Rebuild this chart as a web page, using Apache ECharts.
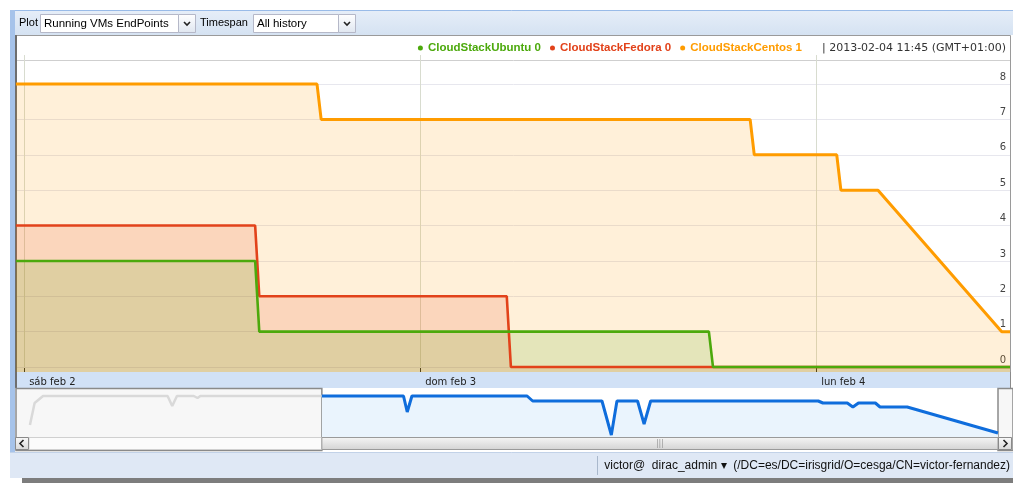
<!DOCTYPE html>
<html>
<head>
<meta charset="utf-8">
<script src="https://cdn.jsdelivr.net/npm/echarts@6/dist/echarts.min.js"></script>
<style>
  html, body { margin: 0; padding: 0; background: #fff; }
  #chart { width: 1013px; height: 483px; }
</style>
</head>
<body>
<div id="chart"></div>
<script>
// legend order (top-right), colours and the value shown after each name
var seriesNames = ['CloudStackUbuntu', 'CloudStackFedora', 'CloudStackCentos'];
var seriesColors = ['#4ca90c', '#e2421a', '#ff9c00'];
var legendValues = [0, 0, 1];
var legendStamp = '| 2013-02-04 11:45 (GMT+01:00)';

// running VMs per endpoint
var ubuntuData = [
  ['2013-02-01 23:30', 3], ['2013-02-02 14:00', 3], ['2013-02-02 14:15', 1],
  ['2013-02-03 17:30', 1], ['2013-02-03 17:45', 0], ['2013-02-04 11:45', 0]
];
var fedoraData = [
  ['2013-02-01 23:30', 4], ['2013-02-02 14:00', 4], ['2013-02-02 14:15', 2],
  ['2013-02-03 05:15', 2], ['2013-02-03 05:30', 0], ['2013-02-04 11:45', 0]
];
var centosData = [
  ['2013-02-01 23:30', 8], ['2013-02-02 17:45', 8], ['2013-02-02 18:00', 7],
  ['2013-02-03 20:00', 7], ['2013-02-03 20:15', 6], ['2013-02-04 01:15', 6],
  ['2013-02-04 01:30', 5], ['2013-02-04 03:45', 5], ['2013-02-04 11:15', 1],
  ['2013-02-04 11:45', 1]
];
var yTicks = [0, 1, 2, 3, 4, 5, 6, 7, 8];
var dayTicks = ['2013-02-02 00:00', '2013-02-03 00:00', '2013-02-04 00:00'];
var dayNames = ['dom', 'lun', 'mar', 'mié', 'jue', 'vie', 'sáb'];
var monthNames = ['ene', 'feb', 'mar', 'abr', 'may', 'jun', 'jul', 'ago', 'sep', 'oct', 'nov', 'dic'];
var viewStart = '2013-02-01 23:34';
var viewEnd = '2013-02-04 11:45';

// overview strip under the plot (arbitrary units)
var overviewStart = '2013-01-31 21:30';
var overviewHistory = [
  ['2013-01-31 21:35', 12], ['2013-01-31 22:00', 34], ['2013-01-31 22:45', 41],
  ['2013-02-01 02:40', 41], ['2013-02-01 02:45', 39], ['2013-02-01 03:10', 41],
  ['2013-02-01 09:50', 41], ['2013-02-01 10:15', 31], ['2013-02-01 10:40', 41],
  ['2013-02-01 12:10', 41], ['2013-02-01 12:30', 39], ['2013-02-01 12:45', 41],
  ['2013-02-01 23:34', 41]
];
var overviewData = [
  ['2013-02-01 23:34', 41], ['2013-02-02 06:50', 41], ['2013-02-02 07:10', 25],
  ['2013-02-02 07:35', 41], ['2013-02-02 17:50', 41], ['2013-02-02 18:20', 36],
  ['2013-02-03 00:30', 36], ['2013-02-03 01:20', 2], ['2013-02-03 01:50', 36],
  ['2013-02-03 03:40', 36], ['2013-02-03 04:15', 13], ['2013-02-03 04:50', 36],
  ['2013-02-03 19:45', 36], ['2013-02-03 20:10', 34], ['2013-02-03 22:20', 34],
  ['2013-02-03 22:50', 30], ['2013-02-03 23:20', 34], ['2013-02-04 00:50', 34],
  ['2013-02-04 01:15', 30], ['2013-02-04 03:40', 30], ['2013-02-04 11:45', 4]
];

function t(s) { return echarts.time.parse(s).getTime(); }
function pts(arr) { return arr.map(function (d) { return [t(d[0]), d[1]]; }); }

var chartFont = 'DejaVu Sans';
var uiFont = 'Liberation Sans';
var plotW = 993, plotH = 312;

var chart = echarts.init(document.getElementById('chart'));

function plotSeries(name, data, color, width) {
  return {
    name: name,
    type: 'line',
    data: pts(data),
    showSymbol: false,
    silent: true,
    xAxisIndex: 0,
    yAxisIndex: 0,
    lineStyle: { color: color, width: width },
    itemStyle: { color: color },
    areaStyle: { color: color, opacity: 0.15, origin: 'start' }
  };
}

var option = {
  animation: false,
  title: {
    text: legendStamp,
    right: 2,
    top: 38,
    textStyle: { fontFamily: chartFont, fontSize: 11, fontWeight: 'normal', color: '#333' }
  },
  legend: {
    right: 206,
    top: 37,
    icon: 'circle',
    itemWidth: 5,
    itemHeight: 5,
    itemGap: 9,
    selectedMode: false,
    data: seriesNames.map(function (n, i) {
      return { name: n, textStyle: { color: seriesColors[i] } };
    }),
    formatter: function (name) {
      return name + ' ' + legendValues[seriesNames.indexOf(name)];
    },
    textStyle: { fontFamily: uiFont, fontSize: 11.5, fontWeight: 'bold' }
  },
  grid: [
    { left: 17, right: 3, top: 60, height: plotH },
    { left: 29, right: 15, top: 392, height: 45 }
  ],
  xAxis: [
    {
      // day grid lines + labels
      type: 'value',
      gridIndex: 0,
      position: 'bottom',
      min: t(viewStart),
      max: t(viewEnd),
      axisLine: { show: false },
      axisTick: {
        show: true, inside: true, length: plotH,
        customValues: dayTicks.map(t),
        lineStyle: { color: '#d8dccf' }
      },
      axisLabel: {
        customValues: dayTicks.map(t),
        align: 'left',
        margin: 5,
        padding: [0, 0, 0, 5],
        fontFamily: chartFont,
        fontSize: 10,
        color: '#222',
        formatter: function (v) {
          var d = new Date(v);
          return dayNames[d.getDay()] + ' ' + monthNames[d.getMonth()] + ' ' + d.getDate();
        }
      },
      splitLine: { show: false }
    },
    {
      type: 'value',
      gridIndex: 1,
      min: t(overviewStart),
      max: t(viewEnd),
      show: false
    },
    {
      // short dark tick marks at the bottom edge
      type: 'value',
      gridIndex: 0,
      position: 'bottom',
      offset: 0,
      min: t(viewStart),
      max: t(viewEnd),
      axisLine: { show: false },
      axisTick: {
        show: true, inside: true, length: 4,
        customValues: dayTicks.map(t),
        lineStyle: { color: '#222' }
      },
      axisLabel: { show: false },
      splitLine: { show: false }
    }
  ],
  yAxis: [
    {
      type: 'value',
      gridIndex: 0,
      position: 'right',
      min: -0.14,
      max: 8.68,
      axisLine: { show: false },
      axisTick: {
        show: true, inside: true, length: plotW,
        customValues: yTicks,
        lineStyle: { color: '#e7e7ee' }
      },
      axisLabel: {
        inside: true,
        margin: 4,
        customValues: yTicks,
        verticalAlign: 'bottom',
        padding: [0, 0, 2, 0],
        fontFamily: chartFont,
        fontSize: 10,
        color: '#444'
      },
      splitLine: { show: false }
    },
    {
      type: 'value',
      gridIndex: 1,
      min: 0,
      max: 45,
      show: false
    }
  ],
  series: [
    plotSeries(seriesNames[2], centosData, seriesColors[2], 3),
    plotSeries(seriesNames[1], fedoraData, seriesColors[1], 2.6),
    plotSeries(seriesNames[0], ubuntuData, seriesColors[0], 2.6),
    {
      name: 'history',
      type: 'line',
      data: pts(overviewHistory),
      showSymbol: false,
      silent: true,
      xAxisIndex: 1,
      yAxisIndex: 1,
      lineStyle: { color: '#d9d9d9', width: 2.5 }
    },
    {
      name: 'overview',
      type: 'line',
      data: pts(overviewData),
      showSymbol: false,
      silent: true,
      xAxisIndex: 1,
      yAxisIndex: 1,
      lineStyle: { color: '#0f6ddc', width: 3 },
      areaStyle: { color: '#eaf4fd', opacity: 1, origin: 'start' }
    }
  ]
};

chart.setOption(option);

function chevron(cx, cy, dir) {
  var p;
  if (dir === 'down') p = [[cx - 3, cy - 1.5], [cx, cy + 1.5], [cx + 3, cy - 1.5]];
  else if (dir === 'left') p = [[cx + 1.5, cy - 3.5], [cx - 2, cy], [cx + 1.5, cy + 3.5]];
  else p = [[cx - 1.5, cy - 3.5], [cx + 2, cy], [cx - 1.5, cy + 3.5]];
  return { type: 'polyline', shape: { points: p }, style: { stroke: '#222', lineWidth: 1.6, fill: null } };
}

function grad(a, b) {
  return new echarts.graphic.LinearGradient(0, 0, 0, 1, [{ offset: 0, color: a }, { offset: 1, color: b }]);
}

function selectBox(x, w, label) {
  return [
    { type: 'rect', shape: { x: x + 0.5, y: 14.5, width: w, height: 18 }, style: { fill: '#fff', stroke: '#b5b8c8' } },
    { type: 'text', x: x + 4, y: 24, style: { text: label, font: '11.5px ' + uiFont, fill: '#000', verticalAlign: 'middle' } },
    { type: 'rect', shape: { x: x + w + 0.5, y: 14.5, width: 17, height: 18 }, style: { fill: grad('#ffffff', '#dfe6f0'), stroke: '#b5b8c8' } },
    chevron(x + w + 9, 23.5, 'down')
  ];
}

function buildChrome() {
  var xs = chart.convertToPixel({ xAxisIndex: 1 }, t(viewStart));
  var xe = chart.convertToPixel({ xAxisIndex: 1 }, t(viewEnd));
  var els = [
    // toolbar
    { type: 'rect', shape: { x: 10, y: 10, width: 1003, height: 25 }, style: { fill: grad('#e6eef8', '#d5e2f2') } },
    { type: 'line', shape: { x1: 10, y1: 10.5, x2: 1013, y2: 10.5 }, style: { stroke: '#99bbe8' } },
    { type: 'text', x: 19, y: 23, style: { text: 'Plot', font: '11px ' + uiFont, fill: '#000', verticalAlign: 'middle' } },
    { type: 'text', x: 200, y: 23, style: { text: 'Timespan', font: '11px ' + uiFont, fill: '#000', verticalAlign: 'middle' } },
    // left strip
    { type: 'rect', shape: { x: 10, y: 10, width: 5, height: 442 }, style: { fill: '#a6c3ea' } },
    // chart box
    { type: 'rect', shape: { x: 15.5, y: 35.5, width: 995, height: 352 }, style: { fill: '#fff', stroke: '#9a9a9a' } },
    { type: 'rect', shape: { x: 15, y: 35, width: 2, height: 353 }, style: { fill: '#6e6e6e' } },
    { type: 'line', shape: { x1: 17, y1: 60.5, x2: 1010, y2: 60.5 }, style: { stroke: '#cfcfcf' } },
    // x-axis band
    { type: 'rect', shape: { x: 17, y: 372, width: 993, height: 16 }, style: { fill: '#d1e1f6' } },
    { type: 'line', shape: { x1: 1010.5, y1: 372, x2: 1010.5, y2: 388 }, style: { stroke: '#8a8a8a' } },
    // overview strip
    { type: 'rect', shape: { x: 15, y: 388, width: 998, height: 62 }, style: { fill: '#fff' } },
    { type: 'rect', shape: { x: 16, y: 388.5, width: xs - 16, height: 62 }, style: { fill: '#f7f7f7', stroke: '#8a8a8a', lineWidth: 1.5 } },
    { type: 'rect', shape: { x: xe, y: 388.5, width: 1013 - xe, height: 62 }, style: { fill: '#f7f7f7', stroke: '#8a8a8a', lineWidth: 1.5 } },
    // scrollbar
    { type: 'rect', shape: { x: 29, y: 437.5, width: xs - 29, height: 12 }, style: { fill: '#fbfbfb', stroke: '#d0d0d0' } },
    { type: 'rect', shape: { x: xs, y: 437.5, width: xe - xs, height: 12 }, style: { fill: grad('#f6f6f6', '#d3d3d3'), stroke: '#9a9a9a' } },
    { type: 'text', x: (xs + xe) / 2, y: 444, style: { text: '|||', font: '8px ' + chartFont, fill: '#999', align: 'center', verticalAlign: 'middle' } },
    { type: 'rect', shape: { x: 15.5, y: 437.5, width: 13, height: 12 }, style: { fill: grad('#fafafa', '#d8d8d8'), stroke: '#8a8a8a' } },
    chevron(22, 443.5, 'left'),
    { type: 'rect', shape: { x: xe + 0.5, y: 437.5, width: 13, height: 12 }, style: { fill: grad('#fafafa', '#d8d8d8'), stroke: '#8a8a8a' } },
    chevron(xe + 7, 443.5, 'right'),
    // footer
    { type: 'rect', shape: { x: 10, y: 452, width: 1003, height: 26 }, style: { fill: '#dfe8f5' } },
    { type: 'line', shape: { x1: 10, y1: 452.5, x2: 1013, y2: 452.5 }, style: { stroke: '#c2d2e8' } },
    { type: 'line', shape: { x1: 597.5, y1: 456, x2: 597.5, y2: 475 }, style: { stroke: '#a9b8cc' } },
    { type: 'text', x: 1010, y: 466, style: { text: 'victor@  dirac_admin \u25BE  (/DC=es/DC=irisgrid/O=cesga/CN=victor-fernandez)', font: '12px ' + uiFont, fill: '#111', align: 'right', verticalAlign: 'middle' } },
    { type: 'rect', shape: { x: 22, y: 478, width: 991, height: 5 }, style: { fill: '#7d7d7d' } }
  ];
  els = els.concat(selectBox(40, 138, 'Running VMs EndPoints'));
  els = els.concat(selectBox(253, 85, 'All history'));
  return els;
}

chart.setOption({ graphic: buildChrome() });
</script>
</body>
</html>
